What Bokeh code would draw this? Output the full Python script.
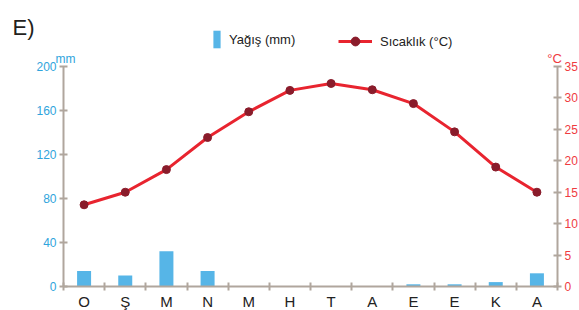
from bokeh.plotting import figure
from bokeh.models import (Range1d, LinearAxis, FixedTicker, Legend, LegendItem, Label,
                          ColumnDataSource)
from bokeh.embed import file_html
from bokeh.resources import INLINE

months = ["O", "Ş", "M", "N", "M", "H", "T", "A", "E", "E", "K", "A"]
precip = [14, 10, 32, 14, 0, 0, 0, 0, 2, 2, 4, 12]
temp = [13.0, 15.0, 18.6, 23.7, 27.8, 31.2, 32.3, 31.3, 29.1, 24.6, 19.0, 15.0]
precip_ticks = [0, 40, 80, 120, 160, 200]
temp_ticks = [0, 5, 10, 15, 20, 25, 30, 35]
P_MAX, T_MAX = 200, 35

FONT = "Liberation Sans"
BLUE = "#56b5e7"
BLUE_TXT = "#2fa4dc"
RED = "#e8242f"
DARK_RED = "#8a1c2b"
RED_TXT = "#ef3b3f"
AXIS = "#b0a69d"

# layout in pixels (figure-relative)
W, H = 579, 310
X0, X1 = 63, 557        # pixel of x=0 and x=12
Y0, YTOP = 286, 66      # pixel (from top) of y=0 and y=P_MAX

n = len(months)
xs = [i + 0.5 for i in range(n)]
src = ColumnDataSource(dict(x=xs, precip=precip, temp=temp))

ux = (X1 - X0) / n
uy = (Y0 - YTOP) / P_MAX
x_range = Range1d(-X0 / ux, n + (W - X1) / ux)
y_range = Range1d(-(H - Y0) / uy, Y0 / uy)
k = T_MAX / P_MAX
t_range = Range1d(y_range.start * k, y_range.end * k)

p = figure(width=W, height=H, output_backend="svg", toolbar_location=None,
           x_range=x_range, y_range=y_range, x_axis_location=None, y_axis_location=None,
           min_border=0, min_border_left=0, min_border_right=0,
           min_border_top=0, min_border_bottom=0)
p.outline_line_color = None
p.xgrid.visible = False
p.ygrid.visible = False
p.extra_y_ranges = {"temp": t_range}

bars = p.vbar(x="x", top="precip", width=0.34, source=src, fill_color=BLUE, line_color=None)
line = p.line(x="x", y="temp", source=src, line_color=RED, line_width=3, y_range_name="temp")
pts = p.scatter(x="x", y="temp", source=src, size=8, fill_color=DARK_RED, line_color=DARK_RED,
                y_range_name="temp")


def style(ax, color, size):
    ax.axis_line_color = AXIS
    ax.axis_line_width = 2
    ax.major_tick_line_color = AXIS
    ax.major_tick_line_width = 2
    ax.major_tick_in = 4
    ax.major_tick_out = 4
    ax.minor_tick_line_color = None
    ax.major_label_text_font = FONT
    ax.major_label_text_font_size = size
    ax.major_label_text_color = color
    ax.major_label_standoff = 3


# x axis: labels at category centres, tick marks at category boundaries
xa = LinearAxis(ticker=FixedTicker(ticks=xs, minor_ticks=list(range(n + 1))),
                fixed_location=0, bounds=(0, n))
style(xa, "#222222", "15px")
xa.major_label_overrides = {x: m for x, m in zip(xs, months)}
xa.major_tick_in = 0
xa.major_tick_out = 0
xa.minor_tick_line_color = AXIS
xa.minor_tick_line_width = 2
xa.minor_tick_in = 4
xa.minor_tick_out = 4
xa.major_label_standoff = 2
p.add_layout(xa, "below")

ya = LinearAxis(ticker=FixedTicker(ticks=precip_ticks), fixed_location=0, bounds=(0, P_MAX))
style(ya, BLUE_TXT, "12px")
p.add_layout(ya, "left")

ra = LinearAxis(y_range_name="temp", ticker=FixedTicker(ticks=temp_ticks),
                fixed_location=n, bounds=(0, T_MAX))
style(ra, RED_TXT, "12px")
p.add_layout(ra, "right")


def mk_legend(item, loc, gw, gh):
    return Legend(items=[item], location=loc, glyph_width=gw, glyph_height=gh,
                  padding=0, margin=0, spacing=0, label_standoff=8,
                  border_line_color=None, background_fill_alpha=0,
                  label_text_font=FONT, label_text_font_size="13px",
                  label_text_color="#222222")


p.add_layout(mk_legend(LegendItem(label="Yağış (mm)", renderers=[bars]), (212, H - 50), 9, 22))
p.add_layout(mk_legend(LegendItem(label="Sıcaklık (°C)", renderers=[line, pts]), (338, H - 52), 34, 22))

p.add_layout(Label(x=12, y=H - 27, x_units="screen", y_units="screen", text="E)",
                   text_font=FONT, text_font_size="22px", text_color="#231f20",
                   text_baseline="alphabetic"))
p.add_layout(Label(x=X0 + 2, y=H - 58, x_units="screen", y_units="screen", text="mm",
                   text_font=FONT, text_font_size="12px", text_color=BLUE_TXT,
                   text_align="center", text_baseline="alphabetic"))
p.add_layout(Label(x=X1 - 3, y=H - 58, x_units="screen", y_units="screen", text="°C",
                   text_font=FONT, text_font_size="13px", text_color=RED_TXT,
                   text_align="center", text_baseline="alphabetic"))

open("out.html", "w").write(file_html(p, INLINE))
